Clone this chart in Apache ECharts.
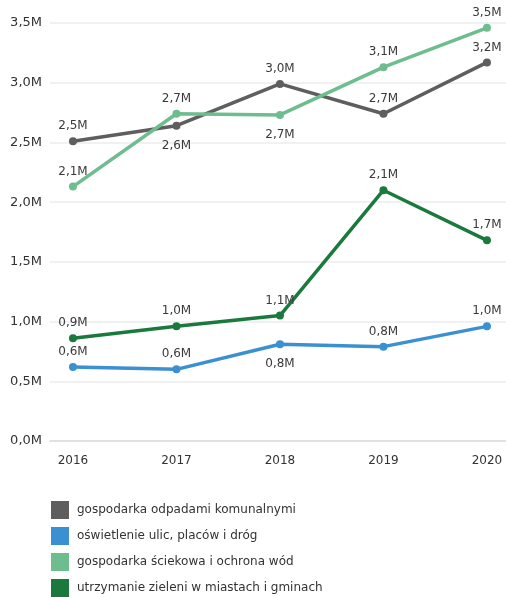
<!DOCTYPE html>
<html>
<head>
<meta charset="utf-8">
<script src="https://cdn.jsdelivr.net/npm/echarts@6/dist/echarts.min.js"></script>
<style>html,body{margin:0;padding:0;background:#fff;}#c{width:506px;height:597px;}</style>
</head>
<body>
<div id="c"></div>
<script>
const years = [2016, 2017, 2018, 2019, 2020];
const yTicks = [0, 0.5, 1, 1.5, 2, 2.5, 3, 3.5];
const seriesNames = [
  'gospodarka odpadami komunalnymi',
  'oświetlenie ulic, placów i dróg',
  'gospodarka ściekowa i ochrona wód',
  'utrzymanie zieleni w miastach i gminach'
];
const odpady = [2.51, 2.64, 2.99, 2.74, 3.17];
const oswietlenie = [0.62, 0.60, 0.81, 0.79, 0.96];
const sciekowa = [2.13, 2.74, 2.73, 3.13, 3.46];
const zielen = [0.86, 0.96, 1.05, 2.10, 1.68];

// label placement (style, not data)
const labelPlacement = [
  ['top', 'bottom', 'top', 'top', 'top'],
  ['top', 'top', 'bottom', 'top', 'top'],
  ['top', 'top', 'bottom', 'top', 'top'],
  ['top', 'top', 'top', 'top', 'top']
];
const colors = ['#5e5e5e', '#3b90d1', '#6dbd8f', '#1a7a3d'];
const allValues = [odpady, oswietlenie, sciekowa, zielen];

const fmt = v => (Math.round(v * 10) / 10).toFixed(1).replace('.', ',') + 'M';

const chart = echarts.init(document.getElementById('c'), null, {renderer: 'canvas'});
const series = allValues.map((vals, si) => ({
  name: seriesNames[si],
  type: 'line',
  symbol: 'circle',
  symbolSize: 8,
  showSymbol: true,
  color: colors[si],
  lineStyle: {width: 3.5, color: colors[si]},
  itemStyle: {color: colors[si]},
  data: vals.map((v, i) => ({
    value: [years[i], v],
    label: {
      show: true,
      position: labelPlacement[si][i],
      distance: labelPlacement[si][i] === 'bottom' ? 10 : 5,
      formatter: p => fmt(p.value[1]),
      fontFamily: 'DejaVu Sans',
      fontSize: 12,
      color: '#3a3a3a'
    }
  }))
}));

chart.setOption({
  animation: false,
  backgroundColor: '#fff',
  grid: {left: 50, right: 0, top: 23, bottom: 156, containLabel: false},
  xAxis: {
    type: 'value',
    min: 2015.778,
    max: 2020.184,
    splitLine: {show: false},
    axisTick: {show: false},
    axisLine: {show: true, lineStyle: {color: '#dcdcdc', width: 1.5}},
    axisLabel: {
      customValues: years,
      formatter: v => String(v),
      fontFamily: 'DejaVu Sans',
      fontSize: 12,
      color: '#333',
      margin: 14
    }
  },
  yAxis: {
    type: 'value',
    min: 0,
    max: 3.5,
    interval: 0.5,
    axisLine: {show: false},
    axisTick: {show: false},
    splitLine: {lineStyle: {color: '#ededed', width: 1.5}},
    axisLabel: {
      formatter: v => fmt(v),
      fontFamily: 'DejaVu Sans',
      fontSize: 13,
      color: '#333',
      margin: 8
    }
  },
  legend: {
    data: seriesNames,
    orient: 'vertical',
    left: 46,
    top: 496,
    height: 140,
    icon: 'rect',
    itemWidth: 18,
    itemHeight: 18,
    itemGap: 8,
    textStyle: {fontFamily: 'DejaVu Sans', fontSize: 12, color: '#333', padding: [0, 0, 0, 3]}
  },
  series: series
});
</script>
</body>
</html>
